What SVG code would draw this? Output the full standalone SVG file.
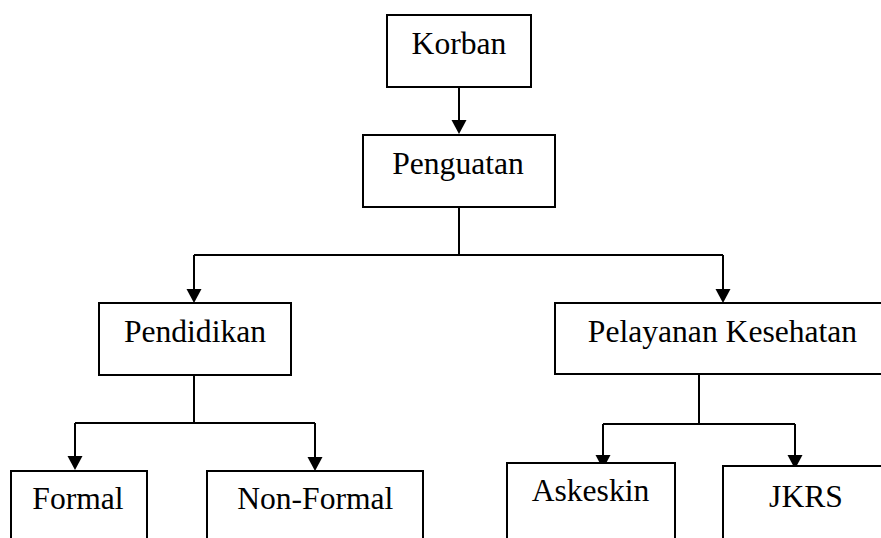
<svg xmlns="http://www.w3.org/2000/svg" width="881" height="538" viewBox="0 0 881 538">
<style>
.box{fill:#fff;stroke:#000;stroke-width:2}
.lbl{font-family:"Liberation Serif","Times New Roman",serif;font-size:31.6px;fill:#000;text-anchor:middle}
.con{fill:none;stroke:#000;stroke-width:2}
</style>
<defs>
<marker id="arr" markerUnits="userSpaceOnUse" markerWidth="15" markerHeight="16" refX="0" refY="7.5" orient="auto">
<path d="M0,0 L14,7.5 L0,15 z" fill="#000"/>
</marker>
</defs>
<rect width="881" height="538" fill="#fff"/>
<g id="connectors">
<path class="con" d="M459,87 V120" marker-end="url(#arr)"/>
<path class="con" d="M459,207 V255"/>
<path class="con" d="M194,255 H723"/>
<path class="con" d="M194,255 V289" marker-end="url(#arr)"/>
<path class="con" d="M723,255 V289" marker-end="url(#arr)"/>
<path class="con" d="M194,375 V423"/>
<path class="con" d="M75,423 H315"/>
<path class="con" d="M75,423 V456" marker-end="url(#arr)"/>
<path class="con" d="M315,423 V457" marker-end="url(#arr)"/>
<path class="con" d="M699,374 V424"/>
<path class="con" d="M603,424 H795"/>
<path class="con" d="M603,424 V455" marker-end="url(#arr)"/>
<path class="con" d="M795,424 V455" marker-end="url(#arr)"/>
</g>
<g id="korban">
<rect class="box" x="387" y="15" width="144" height="72"/>
<text class="lbl" x="459" y="54">Korban</text>
</g>
<g id="penguatan">
<rect class="box" x="363" y="135" width="192" height="72"/>
<text class="lbl" x="458" y="174">Penguatan</text>
</g>
<g id="pendidikan">
<rect class="box" x="99" y="303" width="192" height="72"/>
<text class="lbl" x="195" y="342">Pendidikan</text>
</g>
<g id="pelayanan">
<rect class="box" x="555" y="303" width="340" height="71"/>
<text class="lbl" x="722.5" y="342">Pelayanan Kesehatan</text>
</g>
<g id="formal">
<rect class="box" x="11" y="471" width="136" height="80"/>
<text class="lbl" x="78" y="508.5">Formal</text>
</g>
<g id="nonformal">
<rect class="box" x="207" y="471" width="216" height="80"/>
<text class="lbl" x="315.3" y="509.3">Non-Formal</text>
</g>
<g id="askeskin">
<rect class="box" x="507" y="463" width="168" height="90"/>
<text class="lbl" x="590.5" y="501">Askeskin</text>
</g>
<g id="jkrs">
<rect class="box" x="723" y="466" width="170" height="90"/>
<text class="lbl" x="806" y="506.7">JKRS</text>
</g>
</svg>
